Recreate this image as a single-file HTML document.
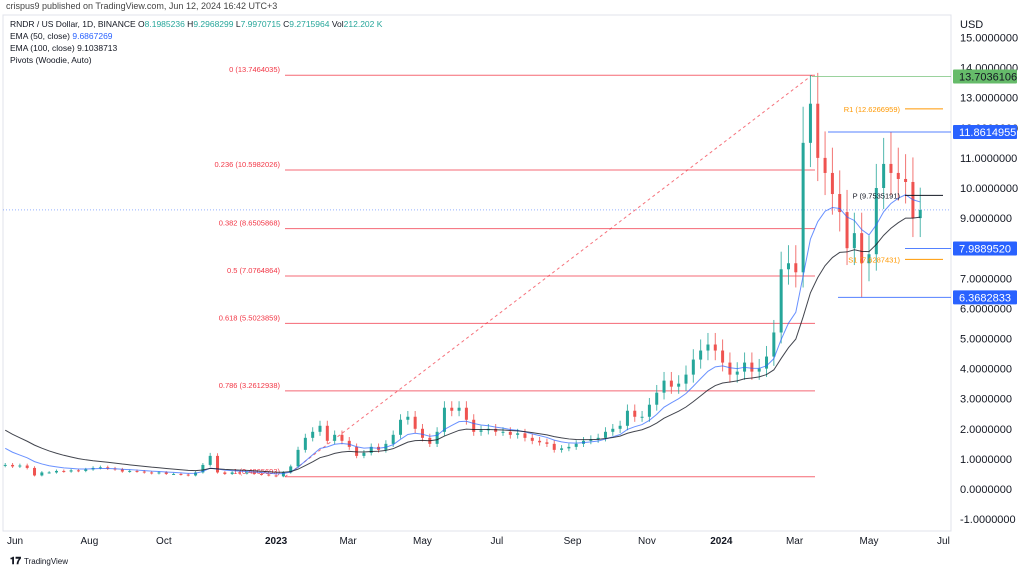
<!DOCTYPE html>
<html><head><meta charset="utf-8"><style>
html,body{margin:0;padding:0;background:#fff;}
body{width:1024px;height:570px;overflow:hidden;font-family:"Liberation Sans",sans-serif;}
svg text{font-family:"Liberation Sans",sans-serif;}
</style></head><body>
<svg id="c" width="1024" height="570">
<text x="6" y="9" font-size="9" fill="#444">crispus9 published on TradingView.com, Jun 12, 2024 16:42 UTC+3</text>
<rect x="3" y="15" width="948" height="516" fill="none" stroke="#e0e3eb"/>
<line x1="951" y1="15" x2="951" y2="531" stroke="#e0e3eb"/>
<text x="10" y="27" font-size="8.5" fill="#131722">RNDR / US Dollar, 1D, BINANCE  O<tspan fill="#26a69a">8.1985236</tspan> H<tspan fill="#26a69a">9.2968299</tspan> L<tspan fill="#26a69a">7.9970715</tspan> C<tspan fill="#26a69a">9.2715964</tspan> Vol<tspan fill="#26a69a">212.202 K</tspan></text>
<text x="10" y="39" font-size="8.5" fill="#131722">EMA (50, close) <tspan fill="#2962ff">9.6867269</tspan></text>
<text x="10" y="51" font-size="8.5" fill="#131722">EMA (100, close) 9.1038713</text>
<text x="10" y="63" font-size="8.5" fill="#131722">Pivots (Woodie, Auto)</text>
<text x="960" y="28" font-size="11" fill="#131722">USD</text>
<g id="g"></g>
<text x="10" y="564" font-size="10" font-weight="bold" fill="#131722">𝟏𝟕</text>
<text x="24" y="564" font-size="8" fill="#131722">TradingView</text>
</svg>
<script>
const closes=[0.80,0.75,0.78,0.70,0.45,0.55,0.55,0.60,0.58,0.62,0.60,0.65,0.70,0.72,0.68,0.65,0.58,0.60,0.58,0.55,0.52,0.55,0.50,0.50,0.48,0.45,0.55,0.80,1.10,0.55,0.50,0.55,0.52,0.55,0.50,0.48,0.45,0.42,0.55,0.75,1.30,1.70,1.90,2.10,1.60,1.80,1.60,1.40,1.10,1.20,1.40,1.30,1.50,1.80,2.30,2.40,2.00,1.70,1.50,1.90,2.70,2.60,2.70,2.30,1.90,1.95,2.00,1.90,1.90,1.80,1.85,1.70,1.60,1.55,1.50,1.30,1.35,1.40,1.50,1.60,1.65,1.70,1.90,2.00,2.10,2.60,2.40,2.40,2.80,3.20,3.60,3.40,3.50,3.80,4.30,4.60,4.80,4.60,4.20,3.80,3.90,4.20,3.90,4.00,4.40,5.20,7.30,7.50,7.20,11.5,12.8,11.0,10.5,9.8,9.2,8.0,8.5,7.5,7.8,10.0,10.8,10.5,10.3,10.2,9.0,9.27];
const spikeHighs={28:1.2,109:12.7,110:13.75,121:11.86};
const spikeLows={117:6.37,118:6.9};
const yTicks=[15,14,13,12,11,10,9,7,6,5,4,3,2,1,0,-1];
const xLabels=["Jun","Aug","Oct","2023","Mar","May","Jul","Sep","Nov","2024","Mar","May","Jul"];
const xLabelDays=[0,61,122,214,273,334,395,457,518,579,639,700,761];
const fibLevels=["0","0.236","0.382","0.5","0.618","0.786","1"];
const fibPrices=[13.7464035,10.5982026,8.6505868,7.0764864,5.5023859,3.2612938,0.4065693];
const ema50Seed=1.5, ema100Seed=2.1, stepDays=6, startDay=-8;
const lastPrice=9.2715964;

const y=p=>489-p*30.1;
const x=d=>15+d*1.22;
const g=document.getElementById('g');
const NS='http://www.w3.org/2000/svg';
function mk(t,a){const e=document.createElementNS(NS,t);for(const k in a)e.setAttribute(k,a[k]);g.appendChild(e);return e;}
const fmt=v=>v.toFixed(7);
yTicks.forEach(v=>{const t=mk('text',{x:960,y:y(v)+4,'font-size':11,fill:'#131722'});t.textContent=fmt(v);

});
xLabels.forEach((l,i)=>{const b=/^\d{4}$/.test(l);const t=mk('text',{x:x(xLabelDays[i]),y:544,'font-size':10,fill:'#131722','text-anchor':'middle','font-weight':b?'bold':'normal'});t.textContent=l;

});
const fx1=285,fx2=815;
fibPrices.forEach((p,i)=>{const l=mk('line',{x1:fx1,x2:fx2,y1:y(p),y2:y(p),stroke:'#f23645','stroke-opacity':0.75,'stroke-width':1});


const t=mk('text',{x:fx1-5,y:y(p)-3,'font-size':7.5,fill:'#f23645','text-anchor':'end'});t.textContent=fibLevels[i]+' ('+fmt(p)+')';

});
const diag=mk('line',{x1:fx1,y1:y(fibPrices[6]),x2:812,y2:y(fibPrices[0]),stroke:'#f23645','stroke-dasharray':'3,3','stroke-opacity':0.7});


const cur=mk('line',{x1:3,x2:951,y1:y(lastPrice),y2:y(lastPrice),stroke:'#2962ff','stroke-dasharray':'1,2','stroke-opacity':0.5});


let e50=ema50Seed,e100=ema100Seed;const a50=2/(50/stepDays+1),a100=2/(100/stepDays+1);
let p50='',p100='';let prev=closes[0];
closes.forEach((c,i)=>{const d=startDay+i*stepDays;const cx=x(d);const o=i?prev:c*0.97;
let hi=Math.max(o,c)*1.08,lo=Math.min(o,c)*0.93;if(spikeHighs[i])hi=spikeHighs[i];if(spikeLows[i])lo=spikeLows[i];
const col=c>=o?'#26a69a':'#ef5350';
const w=mk('line',{x1:cx,x2:cx,y1:y(hi),y2:y(lo),stroke:col,'stroke-width':1,'stroke-opacity':0.8});


const b=mk('rect',{x:cx-1.5,width:3,y:y(Math.max(o,c)),height:Math.max(1,Math.abs(y(o)-y(c))),fill:col});


e50=e50+a50*(c-e50);e100=e100+a100*(c-e100);
p50+=(i?'L':'M')+cx+','+y(e50);p100+=(i?'L':'M')+cx+','+y(e100);prev=c;});
const l50=mk('path',{d:p50,fill:'none',stroke:'#2962ff','stroke-width':1,'stroke-opacity':0.7});


const l100=mk('path',{d:p100,fill:'none',stroke:'#131722','stroke-width':1,'stroke-opacity':0.8});


const piv=[["R1",12.6266959,'#ff9800'],["P",9.7535191,'#131722'],["S1",7.6287431,'#ff9800']];
piv.forEach(p=>{const l=mk('line',{x1:905,x2:943,y1:y(p[1]),y2:y(p[1]),stroke:p[2]});


const t=mk('text',{x:900,y:y(p[1])+3,'font-size':7.5,fill:p[2],'text-anchor':'end'});t.textContent=p[0]+' ('+fmt(p[1])+')';

});
const tags=[[13.7036106,812,'#81c784','#66bb6a','#131722'],[11.8614955,828,'#2962ff','#2962ff','#fff'],[7.988952,905,'#2962ff','#2962ff','#fff'],[6.3682833,838,'#2962ff','#2962ff','#fff']];
tags.forEach(t=>{const l=mk('line',{x1:t[1],x2:951,y1:y(t[0]),y2:y(t[0]),stroke:t[2],'stroke-opacity':0.8});


const r=mk('rect',{x:953,y:y(t[0])-7,width:64,height:14,fill:t[3],rx:1});


const tx=mk('text',{x:959,y:y(t[0])+4,'font-size':11,fill:t[4]});tx.textContent=fmt(t[0]);

});
</script>
</body></html>
